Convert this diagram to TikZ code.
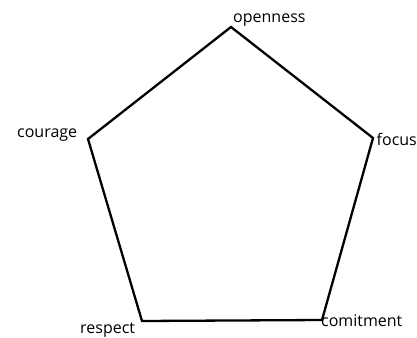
\documentclass[tikz,border=0pt]{standalone}
\usepackage{fontspec}
\setmainfont{Open Sans}
\begin{document}
\begin{tikzpicture}[x=1pt,y=-1pt,
  edge/.style={draw=black,line width=2.3pt,line join=miter},
  lbl/.style={inner sep=0pt,anchor=base west,font=\fontsize{16}{19}\selectfont}]
\useasboundingbox (0,0) rectangle (417,337);
\coordinate (t) at (231,27);
\coordinate (r) at (373,138);
\coordinate (br) at (322,320);
\coordinate (bl) at (142,321);
\coordinate (l) at (88,139);
\draw[edge] (t) -- (r) -- (br) -- (bl) -- (l) -- cycle;
\node[lbl] (lo) at (233,23) {openness};
\node[lbl] (lc) at (17,137) {courage};
\node[lbl] (lf) at (376.5,145) {focus};
\node[lbl] (lr) at (80,333) {respect};
\node[lbl] (lm) at (321,326) {comitment};
\end{tikzpicture}
\end{document}
